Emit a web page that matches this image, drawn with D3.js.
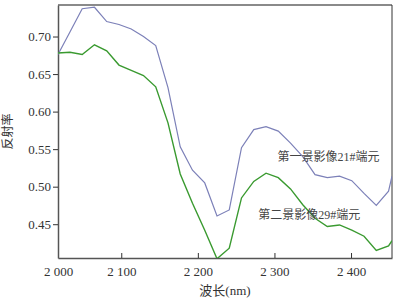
<!DOCTYPE html>
<html>
<head>
<meta charset="utf-8">
<script src="https://cdn.jsdelivr.net/npm/d3@7"></script>
<style>
  body { margin: 0; background: #fff; }
  text { font-family: "Liberation Serif", "Noto Sans CJK SC", serif; }
</style>
</head>
<body>
<div id="viz"></div>
<script>
// band centres (nm) and reflectance of the two endmembers
var wavelength = [2017, 2033, 2049, 2065, 2081, 2097, 2113, 2129, 2145, 2161,
                  2177, 2193, 2209, 2225, 2241, 2257, 2273, 2289, 2305, 2321,
                  2337, 2353, 2369, 2385, 2401, 2417, 2433, 2449, 2465];
var scene1 = [0.676, 0.706, 0.737, 0.739, 0.720, 0.716, 0.710, 0.700, 0.688, 0.632,
              0.553, 0.522, 0.505, 0.461, 0.469, 0.552, 0.576, 0.580, 0.574, 0.558,
              0.540, 0.516, 0.512, 0.514, 0.508, 0.491, 0.475, 0.494, 0.514];
var scene2 = [0.678, 0.679, 0.676, 0.689, 0.681, 0.662, 0.655, 0.648, 0.633, 0.585,
              0.517, 0.478, 0.442, 0.404, 0.418, 0.485, 0.507, 0.518, 0.512, 0.497,
              0.476, 0.458, 0.447, 0.449, 0.442, 0.434, 0.415, 0.421, 0.428];
var xTicks = [2000, 2100, 2200, 2300, 2400];
var yTicks = [0.45, 0.50, 0.55, 0.60, 0.65, 0.70];
var names = ["第一景影像21#端元", "第二景影像29#端元"];

// set the dimensions and margins of the graph
var margin = { top: 5, right: 6, bottom: 42, left: 58 },
    width = 398 - margin.left - margin.right,
    height = 300 - margin.top - margin.bottom;

var svg = d3.select("#viz")
  .append("svg")
  .attr("width", width + margin.left + margin.right)
  .attr("height", height + margin.top + margin.bottom)
  .append("g")
  .attr("transform", "translate(" + margin.left + "," + margin.top + ")");

// x starts a little after 2000, the first label sits at the axis origin
var xScale = d3.scaleLinear().domain([2017.4, 2453.5]).range([0, width]).clamp(true),
    yScale = d3.scaleLinear().domain([0.405, 0.742]).range([height, 0]);

var fmtX = d => d3.format(",")(d).replace(",", " ");

svg.append("defs").append("clipPath")
  .attr("id", "clip")
  .append("rect")
  .attr("width", width)
  .attr("height", height);

// frame: top and right
svg.append("line")
  .attr("x1", 0).attr("x2", width).attr("y1", 0).attr("y2", 0)
  .attr("stroke", "#8a8a8a").attr("stroke-width", 2);
svg.append("line")
  .attr("x1", width).attr("x2", width).attr("y1", 0).attr("y2", height)
  .attr("stroke", "#333").attr("stroke-width", 1);

// x-axis, ticks point inward
var xAxis = svg.append("g")
  .attr("transform", "translate(0," + height + ")")
  .call(d3.axisBottom(xScale).tickValues(xTicks).tickFormat(fmtX)
        .tickSizeInner(-5).tickSizeOuter(0).tickPadding(9));
xAxis.selectAll(".tick").filter(d => d === 2000).select("line").remove();

// y-axis, ticks point outward
var yAxis = svg.append("g")
  .call(d3.axisLeft(yScale).tickValues(yTicks).tickFormat(d3.format(".2f"))
        .tickSize(5).tickSizeOuter(0).tickPadding(2));

svg.selectAll(".domain").attr("stroke", "#555").attr("stroke-width", 1.5);
svg.selectAll(".tick line").attr("stroke", "#333");
svg.selectAll(".tick text")
  .attr("fill", "#333")
  .style("font-size", "13px")
  .style("font-family", "'Liberation Serif', serif");

// axis labels
svg.append("text")
  .attr("x", width / 2)
  .attr("y", height + 37)
  .attr("text-anchor", "middle")
  .attr("fill", "#333")
  .style("font-size", "13px")
  .text("波长(nm)");

svg.append("text")
  .attr("transform", "rotate(-90)")
  .attr("x", -height / 2)
  .attr("y", -46)
  .attr("text-anchor", "middle")
  .attr("fill", "#333")
  .style("font-size", "12px")
  .text("反射率");

// lines
var lineOf = vals => d3.line()
  .x((d, i) => xScale(wavelength[i]))
  .y(d => yScale(d))(vals);

var plot = svg.append("g").attr("clip-path", "url(#clip)");

plot.append("path")
  .attr("d", lineOf(scene1))
  .attr("fill", "none")
  .attr("stroke", "#7c80b8")
  .attr("stroke-width", 1.2);

plot.append("path")
  .attr("d", lineOf(scene2))
  .attr("fill", "none")
  .attr("stroke", "#3a9a30")
  .attr("stroke-width", 1.4);

// endmember labels
svg.append("text")
  .attr("x", xScale(2304))
  .attr("y", yScale(0.5395))
  .attr("dy", "0.35em")
  .attr("fill", "#444")
  .style("font-size", "12px")
  .text(names[0]);

svg.append("text")
  .attr("x", xScale(2279))
  .attr("y", yScale(0.4628))
  .attr("dy", "0.35em")
  .attr("fill", "#444")
  .style("font-size", "12px")
  .text(names[1]);
</script>
</body>
</html>
